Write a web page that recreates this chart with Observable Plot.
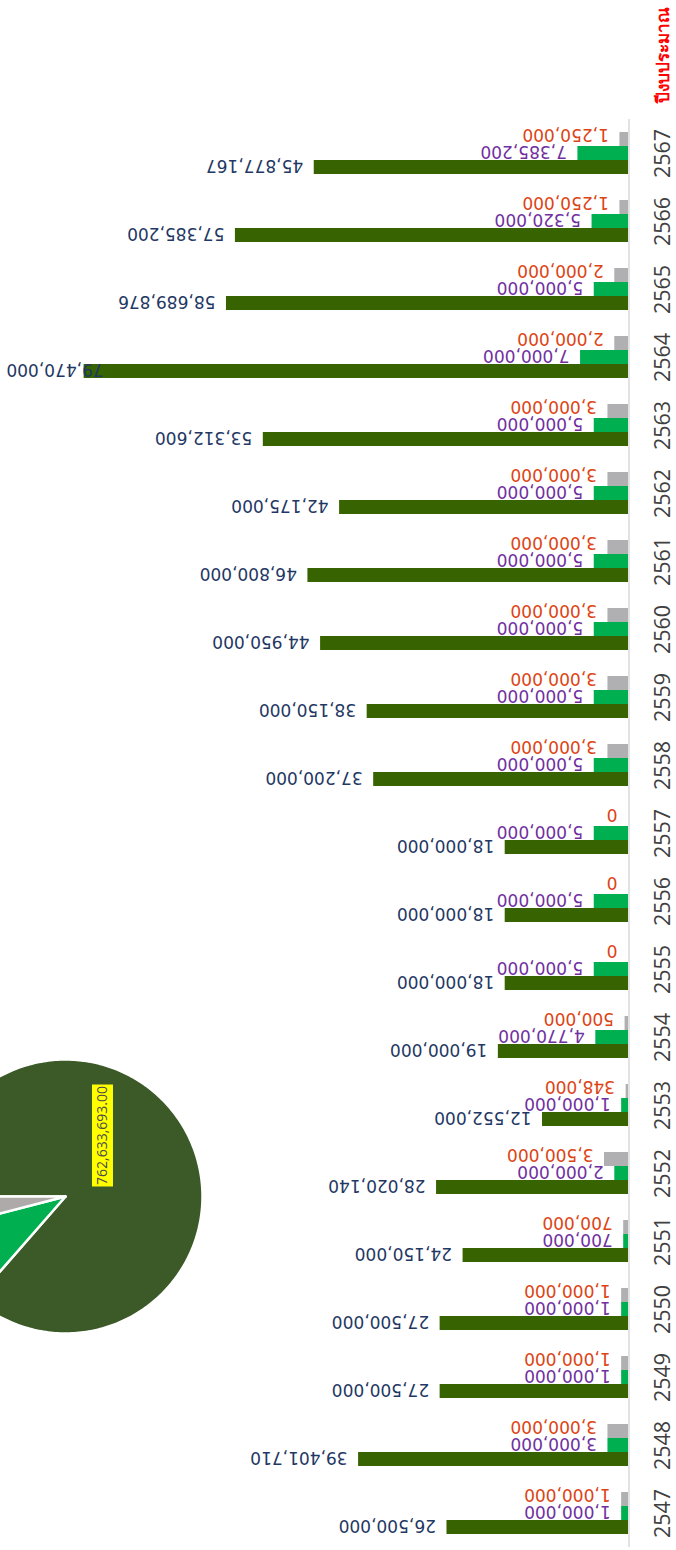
<!DOCTYPE html>
<html><head><meta charset="utf-8">
<script src="https://cdn.jsdelivr.net/npm/d3@7"></script>
<script src="https://cdn.jsdelivr.net/npm/@observablehq/plot@0.6"></script>
<style>
html,body{margin:0;padding:0;background:#fff;overflow:hidden;}
#wrap{position:relative;width:676px;height:1550px;overflow:hidden;background:#fff;}
#chart{position:absolute;left:0;top:0;}
#pie{position:absolute;left:0;top:1046px;}
#title{position:absolute;left:662px;top:55px;transform:translate(-50%,-50%) rotate(-90deg);color:#ff0000;font-weight:bold;font-size:17px;font-family:"Noto Sans","DejaVu Sans",sans-serif;white-space:nowrap;}
</style></head><body>
<div id="wrap"><div id="chart"></div><div id="pie"></div><div id="title">ปีงบประมาณ</div></div>
<script>
// ---- data ----
const years = ["2547","2548","2549","2550","2551","2552","2553","2554","2555","2556","2557","2558","2559","2560","2561","2562","2563","2564","2565","2566","2567"];
const mainBudget = [26500000,39401710,27500000,27500000,24150000,28020140,12552000,19000000,18000000,18000000,18000000,37200000,38150000,44950000,46800000,42175000,53312600,79470000,58689876,57385200,45877167];
const greenBudget = [1000000,3000000,1000000,1000000,700000,2000000,1000000,4770000,5000000,5000000,5000000,5000000,5000000,5000000,5000000,5000000,5000000,7000000,5000000,5320000,7385200];
const grayBudget = [1000000,3000000,1000000,1000000,700000,3500000,348000,500000,0,0,0,3000000,3000000,3000000,3000000,3000000,3000000,2000000,2000000,1250000,1250000];
const seriesKeys = ["gray","green","main"];
const titleText = "ปีงบประมาณ";

// ---- styles ----
const barColors = ["#b0b0b2","#00b050","#376400"];
const labelColors = {gray:"#dc4414", green:"#7030a0", main:"#1f3864"};
const labelDy = {gray:-5, green:-2, main:-2};
const pieColors = ["#3b5a27","#00b050","#aeaaaa"];
const labelMaxX = 75.0e6; // labels kept inside the chart (as the original does for its longest bar)

const rows = [];
years.forEach((yr,i)=>{
  rows.push({year:yr, series:"gray", value:grayBudget[i]});
  rows.push({year:yr, series:"green", value:greenBudget[i]});
  rows.push({year:yr, series:"main", value:mainBudget[i]});
});
const fmt = d3.format(",");

const labelMarks = seriesKeys.map(s => Plot.text(rows.filter(r=>r.series===s), {
  fy:"year", y:"series", x:d=>Math.min(d.value, labelMaxX), text:d=>fmt(d.value),
  rotate:180, textAnchor:"start", dx:-11, dy:labelDy[s],
  fill:labelColors[s], fontSize:17, fontFamily:"DejaVu Sans"
}));

const chart = Plot.plot({
  width:676, height:1550,
  marginLeft:80, marginRight:48, marginTop:116, marginBottom:0,
  x:{domain:[0,80e6], reverse:true, axis:null},
  y:{domain:seriesKeys, axis:null, paddingInner:0, paddingOuter:0.78},
  fy:{domain:years.slice().reverse(), axis:null, padding:0},
  color:{domain:seriesKeys, range:barColors},
  style:{fontFamily:"DejaVu Sans", background:"transparent"},
  marks:[
    Plot.barX(rows, {fy:"year", y:"series", x:"value", fill:"series"}),
    Plot.ruleX([0], {stroke:"#d9d9d9", strokeWidth:1.5, dx:0.5}),
    ...labelMarks,
    Plot.text(years, {fy:d=>d, text:d=>d, frameAnchor:"right", textAnchor:"middle", rotate:-90, dx:35, fontSize:21.5, fill:"#404040", fontFamily:"Open Sans"})
  ]
});
document.getElementById("chart").append(chart);

// ---- pie ----
const pieVals = [d3.sum(mainBudget), d3.sum(greenBudget), d3.sum(grayBudget)];
const arcs = d3.pie().sort(null).startAngle(-Math.PI/2).endAngle(1.5*Math.PI)(pieVals);
const slicePts = arcs.map(a=>{
  const pts=[{x:0,y:0}];
  const n=Math.max(2,Math.ceil((a.endAngle-a.startAngle)/(2*Math.PI)*360));
  for(let j=0;j<=n;j++){const t=a.startAngle+(a.endAngle-a.startAngle)*j/n; pts.push({x:Math.sin(t),y:Math.cos(t)});}
  pts.push({x:0,y:0});
  return pts;
});
const R=137, W=220, H=300, CX=65, CY=150;
const pie = Plot.plot({
  width:W, height:H, margin:0,
  x:{domain:[-CX/R,(W-CX)/R], axis:null},
  y:{domain:[-(H-CY)/R, CY/R], axis:null},
  style:{background:"transparent", overflow:"visible"},
  marks:[
    ...slicePts.map((pts,k)=>Plot.line(pts,{x:"x",y:"y",fill:pieColors[k],stroke:"white",strokeWidth:2.5,strokeLinejoin:"round"})),
    Plot.text([pieVals[0]], {x:()=>0, y:()=>0, text:d=>d3.format(",.2f")(d), rotate:-90, dx:37, dy:-61, fontSize:14, fill:"#4a4a4a", fontFamily:"Open Sans"})
  ]
});
document.getElementById("pie").append(pie);
pie.querySelectorAll("text").forEach(t=>{
  const b=t.getBBox();
  const r=document.createElementNS("http://www.w3.org/2000/svg","rect");
  r.setAttribute("x",b.x-1.5); r.setAttribute("y",b.y);
  r.setAttribute("width",b.width+3); r.setAttribute("height",b.height+2);
  r.setAttribute("fill","#ffff00");
  if(t.getAttribute("transform")) r.setAttribute("transform",t.getAttribute("transform"));
  t.parentNode.insertBefore(r,t);
});
</script>
</body></html>
